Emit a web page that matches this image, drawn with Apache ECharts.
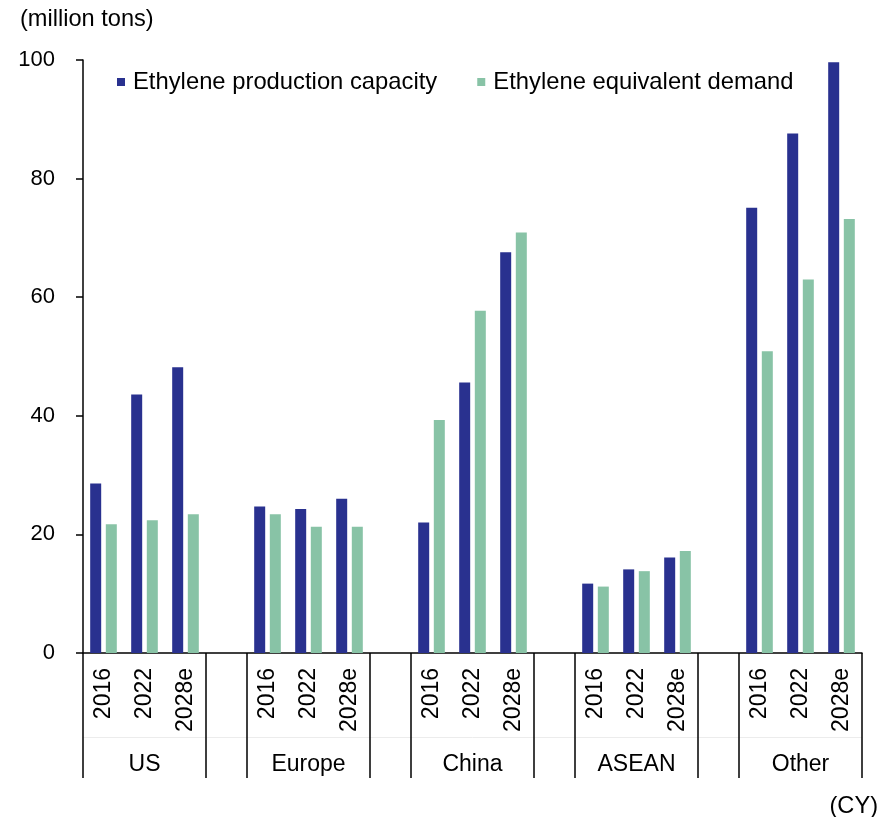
<!DOCTYPE html>
<html>
<head>
<meta charset="utf-8">
<title>Ethylene capacity and demand by region</title>
<script src="https://cdn.jsdelivr.net/npm/echarts@6/dist/echarts.min.js"></script>
<style>
  html, body { margin: 0; padding: 0; background: #fff; }
  #chart { width: 891px; height: 817px; }
</style>
</head>
<body>
<div id="chart"></div>
<script>
// Regions and calendar years shown on the two-level category axis
const regions = ['US', 'Europe', 'China', 'ASEAN', 'Other'];
const years = ['2016', '2022', '2028e'];

// Ethylene production capacity (million tons), per region, by year
const capacityUS = [28.6, 43.6, 48.2];
const capacityEurope = [24.7, 24.3, 26.0];
const capacityChina = [22.0, 45.6, 67.6];
const capacityASEAN = [11.7, 14.1, 16.1];
const capacityOther = [75.1, 87.6, 99.6];

// Ethylene equivalent demand (million tons), per region, by year
const demandUS = [21.7, 22.4, 23.4];
const demandEurope = [23.4, 21.3, 21.3];
const demandChina = [39.3, 57.7, 70.9];
const demandASEAN = [11.2, 13.8, 17.2];
const demandOther = [50.9, 63.0, 73.2];

// Value axis ticks
const yMin = 0, yMax = 100, yStep = 20;

const capacity = [capacityUS, capacityEurope, capacityChina, capacityASEAN, capacityOther];
const demand = [demandUS, demandEurope, demandChina, demandASEAN, demandOther];

// Build the flat category list: three years per region, one empty slot between regions
const yearCats = [], regionCats = [], capData = [], demData = [];
regions.forEach((r, ri) => {
  years.forEach((y, yi) => {
    yearCats.push(y);
    regionCats.push(yi === 1 ? r : '');
    capData.push(capacity[ri][yi]);
    demData.push(demand[ri][yi]);
  });
  if (ri < regions.length - 1) {
    yearCats.push('');
    regionCats.push('');
    capData.push(null);
    demData.push(null);
  }
});

const FONT = '"Liberation Sans", Arial, sans-serif';
const txt = (size) => ({ color: '#000', fontFamily: FONT, fontSize: size });
const slotsPerGroup = years.length + 1;

const chart = echarts.init(document.getElementById('chart'), null, { renderer: 'canvas' });
chart.setOption({
  animation: false,
  backgroundColor: '#fff',
  title: [
    { text: '(million tons)', left: 20, top: 7, padding: 0, textStyle: Object.assign({ fontWeight: 'normal' }, txt(23.6)) },
    { text: '(CY)', right: 13, top: 794, padding: 0, textStyle: Object.assign({ fontWeight: 'normal' }, txt(23.6)) }
  ],
  legend: {
    left: 117, top: 70, padding: 0,
    itemWidth: 8, itemHeight: 8, itemGap: 40,
    icon: 'rect',
    textStyle: Object.assign({ padding: [0, 0, 0, 3] }, txt(23.8)),
    data: ['Ethylene production capacity', 'Ethylene equivalent demand']
  },
  grid: { left: 83, right: 29, top: 60, bottom: 164, containLabel: false },
  xAxis: [
    {
      type: 'category',
      data: yearCats,
      position: 'bottom',
      axisLine: { show: true, lineStyle: { color: '#000', width: 1.5 } },
      axisTick: {
        show: true,
        length: 125,
        lineStyle: { color: '#000', width: 1.5 },
        interval: (i) => i % slotsPerGroup === 0 || i % slotsPerGroup === years.length
      },
      axisLabel: Object.assign({ interval: 0, rotate: 90, margin: 15 }, txt(23)),
      splitLine: { show: false }
    },
    {
      type: 'category',
      data: regionCats,
      position: 'bottom',
      offset: 84,
      axisLine: { show: true, lineStyle: { color: '#ececec', width: 1 } },
      axisTick: { show: false },
      axisLabel: Object.assign({ interval: 0, margin: 16 }, txt(23)),
      splitLine: { show: false }
    }
  ],
  yAxis: {
    type: 'value',
    min: yMin, max: yMax, interval: yStep,
    axisLine: { show: true, lineStyle: { color: '#000', width: 1.5 } },
    axisTick: { show: true, length: 7, lineStyle: { color: '#000', width: 1.5 } },
    axisLabel: Object.assign({ margin: 28 }, txt(22)),
    splitLine: { show: false }
  },
  series: [
    {
      name: 'Ethylene production capacity',
      type: 'bar',
      xAxisIndex: 0,
      data: capData,
      barWidth: 11,
      barGap: '42%',
      itemStyle: { color: '#29318f' }
    },
    {
      name: 'Ethylene equivalent demand',
      type: 'bar',
      xAxisIndex: 0,
      data: demData,
      barWidth: 11,
      barGap: '42%',
      itemStyle: { color: '#88c3a6' }
    }
  ]
});
</script>
</body>
</html>
